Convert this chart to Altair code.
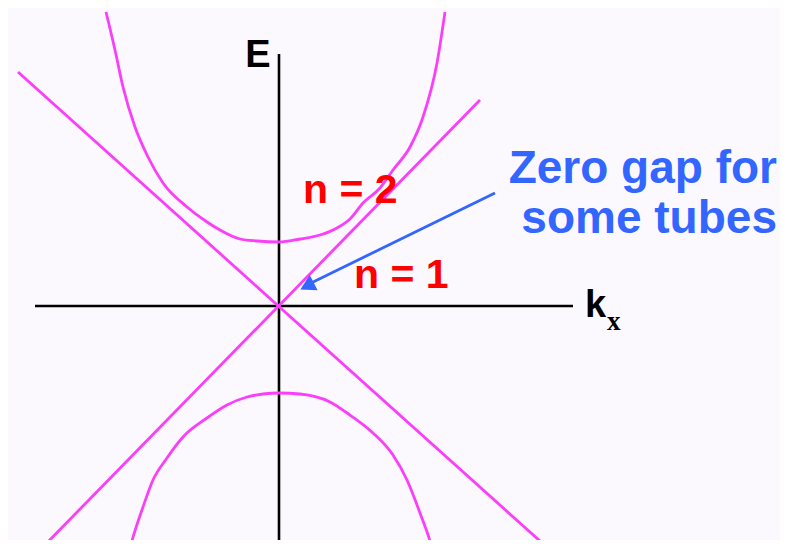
import altair as alt
import pandas as pd

# Coordinates: k to the right, E upward, origin where the axes cross (screen-pixel sized units)
upper_k = [-173, -164, -156, -144, -131, -116, -92, -72, -59, -39, -22, 0,
           21, 41, 58, 71, 84, 101, 114, 131, 144, 158, 166]
upper_E = [294, 256, 219, 179, 149, 123, 99, 84, 76, 67, 65, 64,
           67, 71, 78, 87, 103, 118, 136, 159, 189, 243, 294]

lower_k = [-151, -149, -136, -126, -112, -96, -72, -52, -32, -16, 0,
           21, 51, 68, 94, 114, 128, 141, 153, 155]
lower_E = [-250, -242, -201, -174, -152, -131, -112, -99, -91, -88, -87,
           -88, -96, -107, -127, -149, -174, -207, -242, -250]

lineA_k = [-261, 271]   # n = 1 branch, falling
lineA_E = [234, -244]
lineB_k = [-239, 201]   # n = 1 branch, rising
lineB_E = [-244, 206]

haxis_k = [-244, 294]
haxis_E = [0, 0]
vaxis_k = [0, 0]
vaxis_E = [252, -250]

arrow_k = [216, 30]
arrow_E = [113, 22]
arrowhead_k = [28]
arrowhead_E = [20]

e_label = ["E"]
e_k = [-21]
e_E = [239]

k_label = ["k"]
k_k = [306]
k_E = [-11]

sub_label = ["x"]
sub_k = [328]
sub_E = [-24]

red_labels = ["n = 2", "n = 1"]
red_k = [24, 75]
red_E = [103, 18]

blue_labels = ["Zero gap for", "some tubes"]
blue_k = [498, 498]
blue_E = [123, 73]

MAGENTA = "#FA3EFA"
BLUE = "#3366FF"
RED = "#FF0000"

W, H = 772, 532
xs = alt.Scale(domain=[-271, 501], nice=False, zero=False)
ys = alt.Scale(domain=[-234, 298], nice=False, zero=False)


def path(ks, es, name):
    return pd.DataFrame({"k": ks, "E": es, "s": name, "o": list(range(len(ks)))})


def line_layer(df, color, width, interp="linear"):
    return alt.Chart(df).mark_line(color=color, strokeWidth=width, clip=True,
                                   interpolate=interp).encode(
        x=alt.X("k:Q", scale=xs, axis=None),
        y=alt.Y("E:Q", scale=ys, axis=None),
        detail="s:N",
        order="o:Q",
    )


axes_df = pd.concat([path(haxis_k, haxis_E, "h"), path(vaxis_k, vaxis_E, "v")])
bands_df = pd.concat([
    path(upper_k, upper_E, "upper"),
    path(lower_k, lower_E, "lower"),
])
lines_df = pd.concat([
    path(lineA_k, lineA_E, "A"),
    path(lineB_k, lineB_E, "B"),
])
arrow_df = path(arrow_k, arrow_E, "arrow")

axes = line_layer(axes_df, "#000000", 2.6)
bands = line_layer(bands_df, MAGENTA, 2.8, "monotone")
lines = line_layer(lines_df, MAGENTA, 2.8)
arrow = line_layer(arrow_df, BLUE, 2.8)

head = alt.Chart(pd.DataFrame({"k": arrowhead_k, "E": arrowhead_E})).mark_point(
    shape="triangle-up", filled=True, size=300, angle=243, color=BLUE, opacity=1
).encode(x=alt.X("k:Q", scale=xs, axis=None), y=alt.Y("E:Q", scale=ys, axis=None))


def text_layer(labels, ks, es, color, size, font, align, baseline="alphabetic"):
    df = pd.DataFrame({"k": ks, "E": es, "t": labels})
    return alt.Chart(df).mark_text(
        color=color, fontSize=size, font=font, fontWeight="bold",
        align=align, baseline=baseline
    ).encode(
        x=alt.X("k:Q", scale=xs, axis=None),
        y=alt.Y("E:Q", scale=ys, axis=None),
        text="t:N",
    )


t_e = text_layer(e_label, e_k, e_E, "#000000", 38, "Liberation Sans", "center")
t_k = text_layer(k_label, k_k, k_E, "#000000", 38, "Liberation Sans", "left")
t_sub = text_layer(sub_label, sub_k, sub_E, "#000000", 27, "Liberation Serif", "left")
t_red = text_layer(red_labels, red_k, red_E, RED, 41, "Liberation Sans", "left")
t_blue = text_layer(blue_labels, blue_k, blue_E, BLUE, 46, "Liberation Sans", "right")

chart = alt.layer(axes, bands, lines, arrow, head, t_e, t_k, t_sub, t_red, t_blue).properties(
    width=W, height=H,
    autosize=alt.AutoSizeParams(type="none"),
    padding=0,
    background="#FCF9FE",
).configure_view(stroke=None)

chart.save("out.html", embed_options={"renderer": "svg", "actions": False})
